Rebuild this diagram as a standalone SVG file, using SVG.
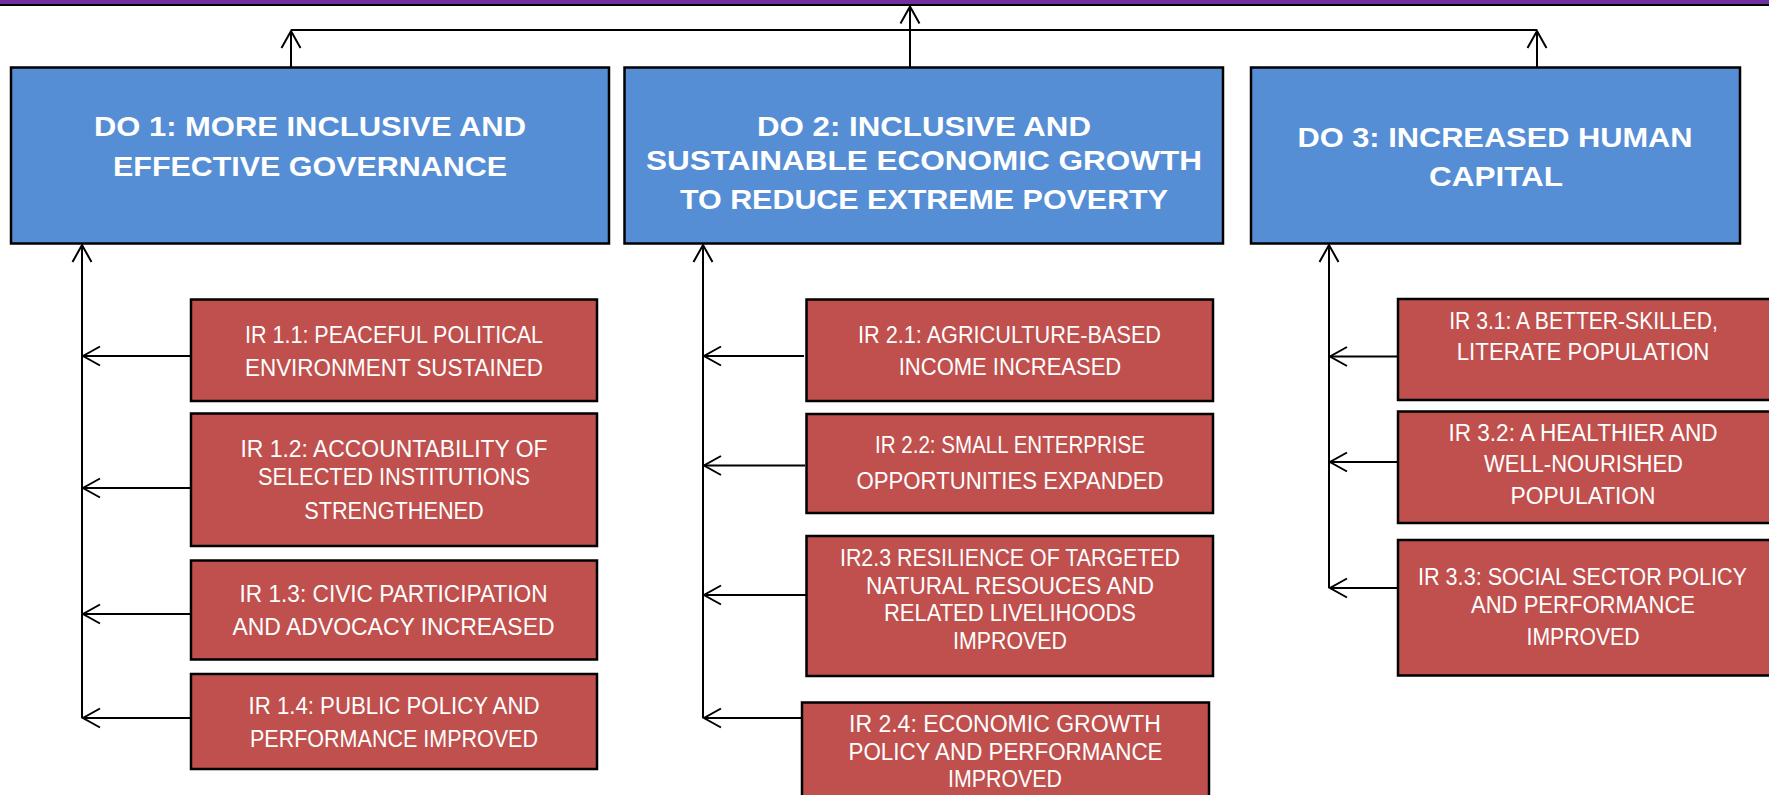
<svg xmlns="http://www.w3.org/2000/svg" width="1769" height="795" viewBox="0 0 1769 795">
<style>
.do{fill:#558ED5;stroke:#000;stroke-width:2.5}
.ir{fill:#C0504D;stroke:#000;stroke-width:2.5}
.dt{font-family:"Liberation Sans",Arial,sans-serif;font-weight:bold;font-size:28px;fill:#fff;text-anchor:middle}
.it{font-family:"Liberation Sans",Arial,sans-serif;font-size:23px;fill:#fff;text-anchor:middle}
.ln{fill:none;stroke:#000;stroke-width:2}
</style>
<defs>
<marker id="arr" markerUnits="userSpaceOnUse" markerWidth="24" markerHeight="24" viewBox="-20 -12 24 24" refX="0" refY="0" orient="auto">
<path d="M-17,-9.5 L0,0 L-17,9.5" fill="none" stroke="#000" stroke-width="2"/>
</marker>
</defs>
<rect x="0" y="0" width="1769" height="4.5" fill="#7030A0"/>
<line x1="0" y1="5" x2="1769" y2="5" stroke="#000" stroke-width="2"/>
<g id="connectors">
<line class="ln" x1="291" y1="30" x2="1537" y2="30"/>
<line class="ln" x1="291" y1="67" x2="291" y2="31" marker-end="url(#arr)"/>
<line class="ln" x1="910" y1="67" x2="910" y2="6.5" marker-end="url(#arr)"/>
<line class="ln" x1="1537" y1="67" x2="1537" y2="31" marker-end="url(#arr)"/>
<line class="ln" x1="82" y1="718" x2="82" y2="245" marker-end="url(#arr)"/>
<line class="ln" x1="190" y1="356" x2="83" y2="356" marker-end="url(#arr)"/>
<line class="ln" x1="190" y1="488" x2="83" y2="488" marker-end="url(#arr)"/>
<line class="ln" x1="190" y1="614" x2="83" y2="614" marker-end="url(#arr)"/>
<line class="ln" x1="190" y1="718" x2="83" y2="718" marker-end="url(#arr)"/>
<line class="ln" x1="703" y1="718" x2="703" y2="245" marker-end="url(#arr)"/>
<line class="ln" x1="804" y1="356" x2="704" y2="356" marker-end="url(#arr)"/>
<line class="ln" x1="805" y1="465.5" x2="704" y2="465.5" marker-end="url(#arr)"/>
<line class="ln" x1="806" y1="595" x2="704" y2="595" marker-end="url(#arr)"/>
<line class="ln" x1="802" y1="718" x2="704" y2="718" marker-end="url(#arr)"/>
<line class="ln" x1="1329" y1="588" x2="1329" y2="245" marker-end="url(#arr)"/>
<line class="ln" x1="1397" y1="356.5" x2="1330" y2="356.5" marker-end="url(#arr)"/>
<line class="ln" x1="1397" y1="462" x2="1330" y2="462" marker-end="url(#arr)"/>
<line class="ln" x1="1397" y1="588" x2="1330" y2="588" marker-end="url(#arr)"/>
</g>
<g id="do1">
<rect class="do" x="11" y="67.5" width="598" height="176"/>
<text class="dt" x="310" y="136" textLength="432" lengthAdjust="spacingAndGlyphs">DO 1: MORE INCLUSIVE AND</text>
<text class="dt" x="310" y="176" textLength="394" lengthAdjust="spacingAndGlyphs">EFFECTIVE GOVERNANCE</text>
</g>
<g id="do2">
<rect class="do" x="624.5" y="67.5" width="598.5" height="176"/>
<text class="dt" x="924" y="136" textLength="334" lengthAdjust="spacingAndGlyphs">DO 2: INCLUSIVE AND</text>
<text class="dt" x="924" y="170" textLength="556" lengthAdjust="spacingAndGlyphs">SUSTAINABLE ECONOMIC GROWTH</text>
<text class="dt" x="924" y="209" textLength="488" lengthAdjust="spacingAndGlyphs">TO REDUCE EXTREME POVERTY</text>
</g>
<g id="do3">
<rect class="do" x="1251" y="67.5" width="489" height="176"/>
<text class="dt" x="1495" y="146.5" textLength="395" lengthAdjust="spacingAndGlyphs">DO 3: INCREASED HUMAN</text>
<text class="dt" x="1496" y="186" textLength="134" lengthAdjust="spacingAndGlyphs">CAPITAL</text>
</g>
<g id="ir11">
<rect class="ir" x="191" y="299.5" width="406" height="101.5"/>
<text class="it" x="394" y="342.5" textLength="298" lengthAdjust="spacingAndGlyphs">IR 1.1: PEACEFUL POLITICAL</text>
<text class="it" x="394" y="376" textLength="298" lengthAdjust="spacingAndGlyphs">ENVIRONMENT SUSTAINED</text>
</g>
<g id="ir12">
<rect class="ir" x="191" y="413.5" width="406" height="132.5"/>
<text class="it" x="394" y="456.5" textLength="307" lengthAdjust="spacingAndGlyphs">IR 1.2: ACCOUNTABILITY OF</text>
<text class="it" x="394" y="485" textLength="272" lengthAdjust="spacingAndGlyphs">SELECTED INSTITUTIONS</text>
<text class="it" x="394" y="518.5" textLength="179.5" lengthAdjust="spacingAndGlyphs">STRENGTHENED</text>
</g>
<g id="ir13">
<rect class="ir" x="191" y="560.5" width="406" height="99"/>
<text class="it" x="393.5" y="602" textLength="308" lengthAdjust="spacingAndGlyphs">IR 1.3: CIVIC PARTICIPATION</text>
<text class="it" x="393.5" y="634.5" textLength="322" lengthAdjust="spacingAndGlyphs">AND ADVOCACY INCREASED</text>
</g>
<g id="ir14">
<rect class="ir" x="191" y="674" width="406" height="95"/>
<text class="it" x="394" y="714" textLength="291" lengthAdjust="spacingAndGlyphs">IR 1.4: PUBLIC POLICY AND</text>
<text class="it" x="394" y="747" textLength="288" lengthAdjust="spacingAndGlyphs">PERFORMANCE IMPROVED</text>
</g>
<g id="ir21">
<rect class="ir" x="806.5" y="299.5" width="406.5" height="101.5"/>
<text class="it" x="1009.5" y="342.5" textLength="303" lengthAdjust="spacingAndGlyphs">IR 2.1: AGRICULTURE-BASED</text>
<text class="it" x="1010" y="375" textLength="222.5" lengthAdjust="spacingAndGlyphs">INCOME INCREASED</text>
</g>
<g id="ir22">
<rect class="ir" x="806.5" y="414" width="406.5" height="99"/>
<text class="it" x="1010" y="452.5" textLength="270" lengthAdjust="spacingAndGlyphs">IR 2.2: SMALL ENTERPRISE</text>
<text class="it" x="1010" y="488.5" textLength="307" lengthAdjust="spacingAndGlyphs">OPPORTUNITIES EXPANDED</text>
</g>
<g id="ir23">
<rect class="ir" x="806.5" y="536" width="406.5" height="140"/>
<text class="it" x="1010" y="565.5" textLength="340" lengthAdjust="spacingAndGlyphs">IR2.3 RESILIENCE OF TARGETED</text>
<text class="it" x="1010" y="593.5" textLength="288" lengthAdjust="spacingAndGlyphs">NATURAL RESOUCES AND</text>
<text class="it" x="1010" y="620.5" textLength="252" lengthAdjust="spacingAndGlyphs">RELATED LIVELIHOODS</text>
<text class="it" x="1010" y="649" textLength="114" lengthAdjust="spacingAndGlyphs">IMPROVED</text>
</g>
<g id="ir24">
<rect class="ir" x="802" y="702.5" width="407" height="100"/>
<text class="it" x="1005" y="732" textLength="312" lengthAdjust="spacingAndGlyphs">IR 2.4: ECONOMIC GROWTH</text>
<text class="it" x="1005.5" y="759.5" textLength="314" lengthAdjust="spacingAndGlyphs">POLICY AND PERFORMANCE</text>
<text class="it" x="1005" y="787" textLength="114" lengthAdjust="spacingAndGlyphs">IMPROVED</text>
</g>
<g id="ir31">
<rect class="ir" x="1398" y="299" width="374" height="101"/>
<text class="it" x="1583.5" y="328.5" textLength="268.5" lengthAdjust="spacingAndGlyphs">IR 3.1: A BETTER-SKILLED,</text>
<text class="it" x="1583" y="360" textLength="252.5" lengthAdjust="spacingAndGlyphs">LITERATE POPULATION</text>
</g>
<g id="ir32">
<rect class="ir" x="1398" y="411.5" width="374" height="111.5"/>
<text class="it" x="1583" y="440.5" textLength="269" lengthAdjust="spacingAndGlyphs">IR 3.2: A HEALTHIER AND</text>
<text class="it" x="1583.5" y="471.5" textLength="199" lengthAdjust="spacingAndGlyphs">WELL-NOURISHED</text>
<text class="it" x="1583" y="504" textLength="145" lengthAdjust="spacingAndGlyphs">POPULATION</text>
</g>
<g id="ir33">
<rect class="ir" x="1398" y="540" width="374" height="135.5"/>
<text class="it" x="1582.5" y="584.5" textLength="329" lengthAdjust="spacingAndGlyphs">IR 3.3: SOCIAL SECTOR POLICY</text>
<text class="it" x="1583" y="612.5" textLength="224" lengthAdjust="spacingAndGlyphs">AND PERFORMANCE</text>
<text class="it" x="1583" y="644.5" textLength="113" lengthAdjust="spacingAndGlyphs">IMPROVED</text>
</g>
</svg>
